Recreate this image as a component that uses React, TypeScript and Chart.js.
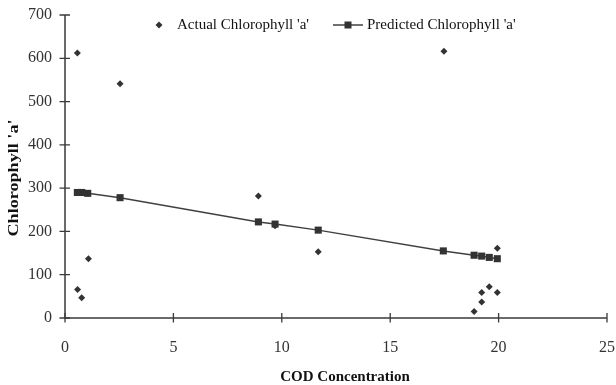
import React, { useEffect, useRef } from "react";
import { Chart, registerables } from "chart.js";

Chart.register(...registerables);

// Actual Chlorophyll 'a' observations (COD, Chl-a)
const actualCOD = [0.57, 0.58, 0.77, 1.08, 2.54, 8.92, 9.69, 11.68, 17.48, 18.87, 19.22, 19.22, 19.57, 19.94, 19.94];
const actualChl = [612, 66, 47, 137, 541, 282, 213, 153, 616, 15, 37, 59, 72, 59, 161];

// Predicted Chlorophyll 'a' (COD, Chl-a)
const predCOD = [0.57, 0.77, 1.05, 2.54, 8.92, 9.69, 11.68, 17.45, 18.87, 19.22, 19.57, 19.94];
const predChl = [290, 290, 288, 278, 222, 217, 203, 155, 145, 143, 140, 137];

const xTicks = [0, 5, 10, 15, 20, 25];
const yTicks = [0, 100, 200, 300, 400, 500, 600, 700];

const seriesNames = ["Actual Chlorophyll 'a'", "Predicted Chlorophyll 'a'"];
const xTitle = "COD Concentration";
const yTitle = "Chlorophyll 'a'";

const INK = "#333333";
const SERIF = "'Liberation Serif', 'Times New Roman', serif";

const overlayPlugin = {
  id: "overlay",
  afterDraw(chart: any) {
    const ctx = chart.ctx as CanvasRenderingContext2D;
    const xs = chart.scales.x;
    const ys = chart.scales.y;
    const x0 = xs.getPixelForValue(0);
    const y0 = ys.getPixelForValue(0);
    ctx.save();
    ctx.strokeStyle = "#3a3a3a";
    ctx.lineWidth = 1.5;
    // axes
    ctx.beginPath();
    ctx.moveTo(x0, ys.getPixelForValue(yTicks[yTicks.length - 1]));
    ctx.lineTo(x0, y0);
    ctx.lineTo(xs.getPixelForValue(xTicks[xTicks.length - 1]), y0);
    ctx.stroke();
    // tick marks crossing the axes
    ctx.lineWidth = 1.3;
    ctx.beginPath();
    xTicks.forEach((v) => {
      const px = xs.getPixelForValue(v);
      ctx.moveTo(px, y0 - 5);
      ctx.lineTo(px, y0 + 4.5);
    });
    yTicks.forEach((v) => {
      const py = ys.getPixelForValue(v);
      ctx.moveTo(x0 - 5.5, py);
      ctx.lineTo(x0 + 5, py);
    });
    ctx.stroke();

    // axis titles
    ctx.fillStyle = "#111111";
    ctx.font = `bold 15px ${SERIF}`;
    ctx.textAlign = "center";
    ctx.textBaseline = "middle";
    ctx.fillText(xTitle, 345, 377);
    ctx.save();
    ctx.translate(14, 178);
    ctx.rotate(-Math.PI / 2);
    const w = ctx.measureText(yTitle).width;
    ctx.scale(117 / w, 1);
    ctx.fillText(yTitle, 0, 0);
    ctx.restore();

    // legend
    ctx.font = `15px ${SERIF}`;
    ctx.textAlign = "left";
    const ly = 25;
    // actual: diamond
    ctx.fillStyle = INK;
    ctx.beginPath();
    ctx.moveTo(159, ly - 3.5);
    ctx.lineTo(162.5, ly);
    ctx.lineTo(159, ly + 3.5);
    ctx.lineTo(155.5, ly);
    ctx.closePath();
    ctx.fill();
    ctx.fillStyle = "#111111";
    ctx.fillText(seriesNames[0], 177, ly);
    // predicted: line + square
    ctx.strokeStyle = "#404040";
    ctx.lineWidth = 1.5;
    ctx.beginPath();
    ctx.moveTo(333, ly);
    ctx.lineTo(363, ly);
    ctx.stroke();
    ctx.fillStyle = INK;
    ctx.fillRect(344.5, ly - 3.5, 7, 7);
    ctx.fillStyle = "#111111";
    ctx.fillText(seriesNames[1], 367, ly);
    ctx.restore();
  },
};

export default function App() {
  const ref = useRef<HTMLCanvasElement | null>(null);
  useEffect(() => {
    document.body.style.margin = "0";
    const canvas = ref.current;
    if (!canvas) return;
    const chart = new Chart(canvas, {
      type: "scatter",
      data: {
        datasets: [
          {
            label: seriesNames[0],
            data: actualCOD.map((x, i) => ({ x, y: actualChl[i] })),
            pointStyle: "rectRot",
            pointRadius: 3.5,
            backgroundColor: INK,
            borderColor: INK,
            borderWidth: 0,
            showLine: false,
          },
          {
            label: seriesNames[1],
            data: predCOD.map((x, i) => ({ x, y: predChl[i] })),
            pointStyle: "rect",
            pointRadius: 5,
            backgroundColor: INK,
            borderColor: "#404040",
            borderWidth: 1.5,
            pointBorderWidth: 0,
            showLine: true,
            tension: 0,
          },
        ],
      },
      options: {
        responsive: false,
        animation: false,
        events: [],
        layout: { padding: { left: 0, top: 15, right: 9, bottom: 0 } },
        plugins: {
          legend: { display: false },
          tooltip: { enabled: false },
        },
        scales: {
          x: {
            type: "linear",
            min: 0,
            max: 25,
            afterFit: (s: any) => {
              s.height = 67;
              s.paddingLeft = 0;
              s.paddingRight = 0;
            },
            ticks: {
              stepSize: 5,
              padding: 12,
              color: INK,
              font: { family: SERIF, size: 16 },
              maxRotation: 0,
            },
            grid: { display: false },
            border: { display: false },
          },
          y: {
            type: "linear",
            min: 0,
            max: 700,
            afterFit: (s: any) => {
              s.width = 65;
              s.paddingTop = 0;
              s.paddingBottom = 0;
            },
            ticks: {
              stepSize: 100,
              padding: 5,
              color: INK,
              font: { family: SERIF, size: 16 },
            },
            grid: { display: false },
            border: { display: false },
          },
        },
      },
      plugins: [overlayPlugin],
    });
    return () => chart.destroy();
  }, []);
  return (
    <div style={{ position: "relative", width: 616, height: 385 }}>
      <canvas ref={ref} width={616} height={385} style={{ width: 616, height: 385, display: "block" }} />
    </div>
  );
}
